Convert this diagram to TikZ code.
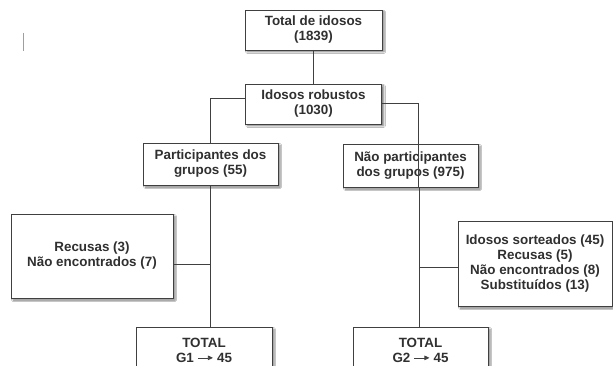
\documentclass[tikz,border=0pt]{standalone}
\usepackage{fontspec}
\setmainfont{Liberation Sans}
\usetikzlibrary{shadows.blur,calc,arrows.meta}
\definecolor{linec}{HTML}{404040}
\definecolor{textc}{HTML}{303030}
\tikzset{
  boxn/.style={draw=linec, line width=0.9pt, fill=white, align=center,
    text=textc, font=\fontsize{13.4}{15}\selectfont\bfseries, inner sep=1pt,
    blur shadow={shadow xshift=2pt, shadow yshift=-2pt, shadow blur steps=5, shadow blur radius=1.5pt, shadow opacity=50}},
  conn/.style={draw=linec, line width=0.9pt}
}
\newcommand{\arrowsym}{\tikz[baseline=-0.6ex]\draw[linec, line width=0.7pt, -{Triangle[length=5pt,width=4.5pt]}] (0,0) -- (15pt,0);}
\begin{document}
\begin{tikzpicture}[x=1pt,y=-1pt]
\useasboundingbox (0,0) rectangle (613,366);
\clip (0,0) rectangle (613,366);
\fill[white] (0,0) rectangle (613,366);
% stray mark
\draw[gray!75, line width=0.8pt] (23,33) -- (23,51);

\node[boxn, minimum width=137pt, minimum height=40pt] (top) at (313.5,30) {Total de idosos\\(1839)};
\node[boxn, minimum width=136.5pt, minimum height=40pt] (rob) at (313.5,104) {Idosos robustos\\(1030)};
\node[boxn, minimum width=135pt, minimum height=42pt] (part) at (210.5,164) {Participantes dos\\grupos (55)};
\node[boxn, minimum width=135pt, minimum height=43pt] (nao) at (410.5,165.5) {Não participantes\\dos grupos (975)};
\node[boxn, minimum width=162pt, minimum height=84pt] (rec) at (92,256) {Recusas (3)\\Não encontrados (7)};
\node[boxn, minimum width=154pt, minimum height=85pt] (sort) at (535,263.5) {Idosos sorteados (45)\\Recusas (5)\\Não encontrados (8)\\Substituídos (13)};
\node[boxn, minimum width=136pt, minimum height=46pt] (t1) at (204,350) {TOTAL\\G1 \arrowsym{} 45};
\node[boxn, minimum width=135pt, minimum height=46pt] (t2) at (420.5,350) {TOTAL\\G2 \arrowsym{} 45};

\coordinate (lx) at (210.5,98);
\coordinate (rx) at (418.5,103);
\coordinate (lj) at (210.5,264);
\coordinate (rj) at (419,267);

\draw[conn] (top.south) -- (rob.north);
\draw[conn] (rob.west |- lx) -| (part.north);
\draw[conn] (rob.east |- rx) -| (nao.south -| rx);
\draw[conn] (part.south -| lj) -- (t1.north -| lj);
\draw[conn] (rec.east |- lj) -- (lj);
\draw[conn] (nao.south -| rj) -- (t2.north -| rj);
\draw[conn] (sort.west |- rj) -- (rj);
\end{tikzpicture}
\end{document}
